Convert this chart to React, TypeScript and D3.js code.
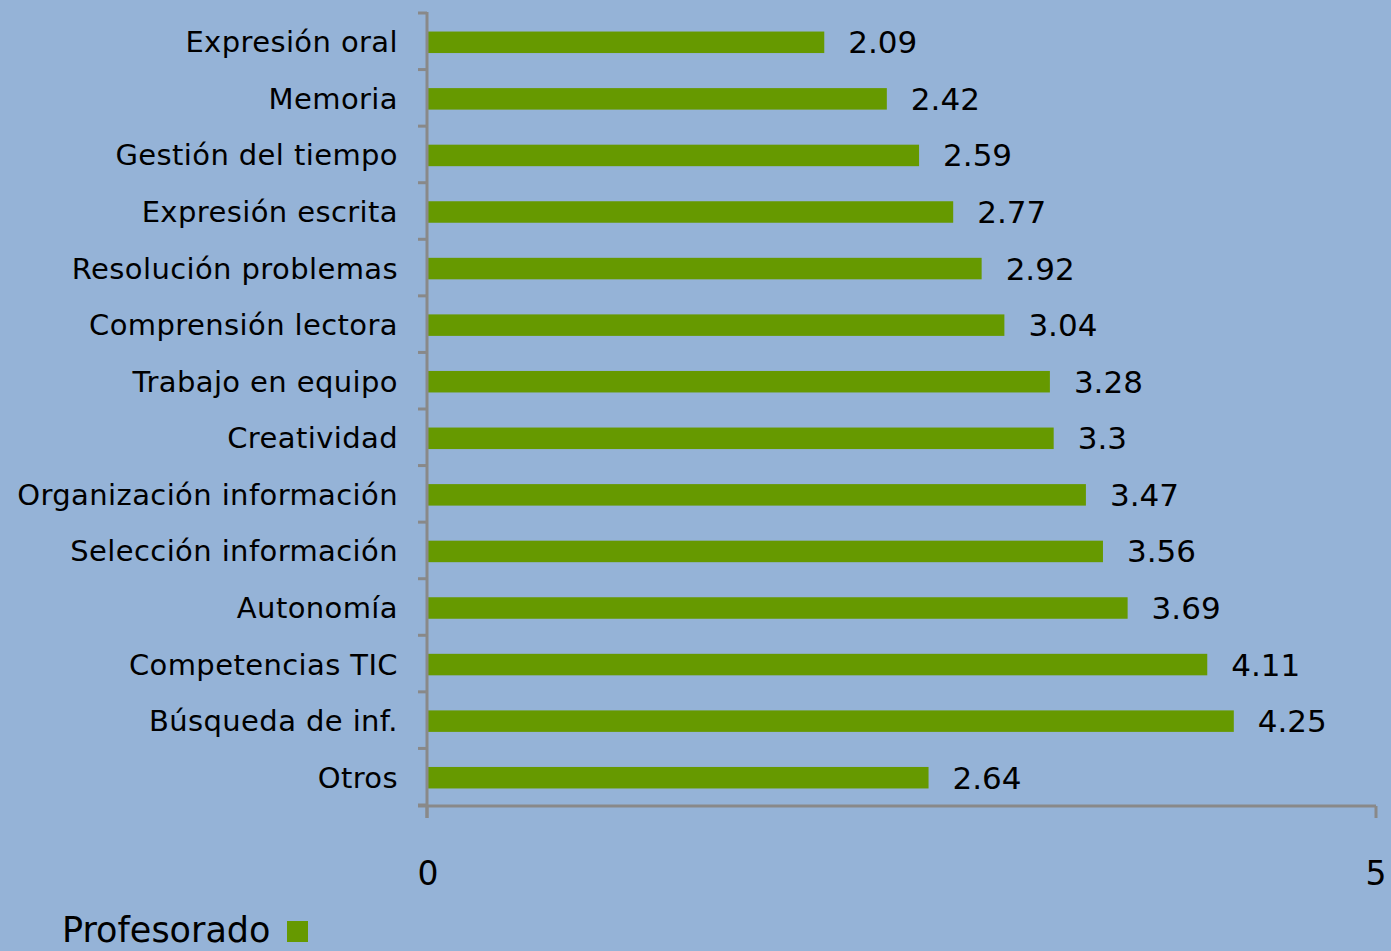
import React from "react";
import * as d3 from "d3";

const categories = [
  "Expresión oral",
  "Memoria",
  "Gestión del tiempo",
  "Expresión escrita",
  "Resolución problemas",
  "Comprensión lectora",
  "Trabajo en equipo",
  "Creatividad",
  "Organización información",
  "Selección información",
  "Autonomía",
  "Competencias TIC",
  "Búsqueda de inf.",
  "Otros",
];
const values = [2.09, 2.42, 2.59, 2.77, 2.92, 3.04, 3.28, 3.3, 3.47, 3.56, 3.69, 4.11, 4.25, 2.64];
const valueLabels = ["2.09", "2.42", "2.59", "2.77", "2.92", "3.04", "3.28", "3.3", "3.47", "3.56", "3.69", "4.11", "4.25", "2.64"];
const xTicks = [0, 5];
const seriesName = "Profesorado";

const W = 1391;
const H = 951;
const BG = "#95B3D7";
const BAR = "#669900";
const AXIS = "#898989";
const FONT = "'DejaVu Sans', Verdana, sans-serif";

export default function App() {
  const x = d3.scaleLinear().domain([0, 5]).range([428, 1376]);
  const y = d3.scaleBand<string>().domain(categories).range([14, 806]).paddingInner(0.62).paddingOuter(0.31);
  const step = y.step();
  const bandTop = 14;
  const bandBottom = 806;
  const tickYs = d3.range(categories.length + 1).map((i) => bandTop + i * step);

  return (
    <svg width={W} height={H} style={{ position: "absolute", left: 0, top: 0, display: "block" }}>
      <rect x={0} y={0} width={W} height={H} fill={BG} />
      {categories.map((c, i) => (
        <g key={c}>
          <rect x={x(0)} y={y(c)!} width={x(values[i]) - x(0)} height={y.bandwidth()} fill={BAR} />
          <text
            x={x(values[i]) + 24}
            y={y(c)! + y.bandwidth() / 2}
            dominantBaseline="central"
            fontFamily={FONT}
            fontSize={31}
            fill="#000"
          >
            {valueLabels[i]}
          </text>
          <text
            x={398}
            y={y(c)! + y.bandwidth() / 2}
            dominantBaseline="central"
            textAnchor="end"
            fontFamily={FONT}
            fontSize={29}
            letterSpacing={0.4}
            fill="#000"
          >
            {c}
          </text>
        </g>
      ))}
      {/* y axis */}
      <line x1={427} x2={427} y1={tickYs[0] - 2} y2={818} stroke={AXIS} strokeWidth={3} />
      {tickYs.map((ty, i) => (
        <line key={i} x1={418} x2={427} y1={ty - 1} y2={ty - 1} stroke={AXIS} strokeWidth={3} />
      ))}
      {/* x axis */}
      <line x1={418} x2={x(5)} y1={bandBottom} y2={bandBottom} stroke={AXIS} strokeWidth={3} />
      {xTicks.map((t) => (
        <g key={t}>
          <line x1={t === 0 ? 427 : x(t)} x2={t === 0 ? 427 : x(t)} y1={bandBottom} y2={818} stroke={AXIS} strokeWidth={3} />
          <text x={x(t)} y={873} textAnchor="middle" dominantBaseline="central" fontFamily={FONT} fontSize={33} fill="#000">
            {t}
          </text>
        </g>
      ))}
      {/* legend */}
      <text x={62} y={930} dominantBaseline="central" fontFamily={FONT} fontSize={35} fill="#000">
        {seriesName}
      </text>
      <rect x={287} y={921} width={21} height={21} fill={BAR} />
    </svg>
  );
}
